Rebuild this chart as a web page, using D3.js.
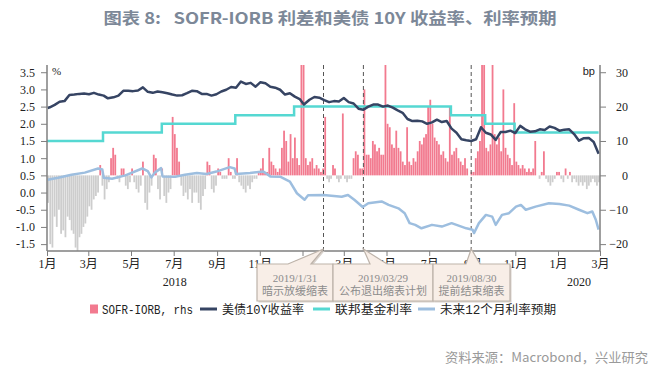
<!DOCTYPE html>
<html>
<head>
<meta charset="utf-8">
<script src="https://cdn.jsdelivr.net/npm/d3@7"></script>
<style>
  body { margin: 0; background: #fff; }
  svg { display: block; }
</style>
</head>
<body>
<svg id="chart" width="669" height="369"></svg>
<script>
// ---- data ----
// 美债10Y收益率 (%), weekly
const ust10y = [
  ["2018-01-02",2.46],["2018-01-05",2.48],["2018-01-12",2.55],["2018-01-19",2.64],["2018-01-26",2.66],
  ["2018-02-02",2.84],["2018-02-09",2.85],["2018-02-16",2.87],["2018-02-23",2.88],["2018-03-02",2.86],
  ["2018-03-09",2.90],["2018-03-16",2.85],["2018-03-23",2.82],["2018-03-29",2.74],["2018-04-06",2.77],
  ["2018-04-13",2.82],["2018-04-20",2.96],["2018-04-27",2.96],["2018-05-04",2.95],["2018-05-11",2.97],
  ["2018-05-18",3.06],["2018-05-25",2.93],["2018-06-01",2.90],["2018-06-08",2.94],["2018-06-15",2.92],
  ["2018-06-22",2.89],["2018-06-29",2.85],["2018-07-06",2.82],["2018-07-13",2.83],["2018-07-20",2.89],
  ["2018-07-27",2.96],["2018-08-03",2.95],["2018-08-10",2.87],["2018-08-17",2.87],["2018-08-24",2.82],
  ["2018-08-31",2.86],["2018-09-07",2.94],["2018-09-14",2.99],["2018-09-21",3.07],["2018-09-28",3.05],
  ["2018-10-05",3.23],["2018-10-12",3.16],["2018-10-19",3.19],["2018-10-26",3.08],["2018-11-02",3.21],
  ["2018-11-09",3.18],["2018-11-16",3.08],["2018-11-23",3.05],["2018-11-30",2.99],["2018-12-07",2.85],
  ["2018-12-14",2.89],["2018-12-21",2.79],["2018-12-28",2.72],["2019-01-03",2.56],["2019-01-11",2.70],
  ["2019-01-18",2.78],["2019-01-25",2.76],["2019-02-01",2.69],["2019-02-08",2.63],["2019-02-15",2.66],
  ["2019-02-22",2.65],["2019-03-01",2.75],["2019-03-08",2.63],["2019-03-15",2.59],["2019-03-22",2.44],
  ["2019-03-29",2.41],["2019-04-05",2.50],["2019-04-12",2.56],["2019-04-19",2.56],["2019-04-26",2.50],
  ["2019-05-03",2.53],["2019-05-10",2.47],["2019-05-17",2.39],["2019-05-24",2.32],["2019-05-31",2.14],
  ["2019-06-07",2.08],["2019-06-14",2.09],["2019-06-21",2.07],["2019-06-28",2.00],["2019-07-05",2.04],
  ["2019-07-12",2.12],["2019-07-19",2.05],["2019-07-26",2.08],["2019-08-02",1.86],["2019-08-09",1.74],
  ["2019-08-16",1.55],["2019-08-23",1.52],["2019-08-30",1.50],["2019-09-06",1.55],["2019-09-13",1.90],
  ["2019-09-20",1.74],["2019-09-27",1.69],["2019-10-04",1.53],["2019-10-11",1.76],["2019-10-18",1.76],
  ["2019-10-25",1.80],["2019-11-01",1.73],["2019-11-08",1.94],["2019-11-15",1.84],["2019-11-22",1.77],
  ["2019-11-29",1.78],["2019-12-06",1.84],["2019-12-13",1.82],["2019-12-20",1.92],["2019-12-27",1.88],
  ["2020-01-03",1.80],["2020-01-10",1.83],["2020-01-17",1.84],["2020-01-24",1.70],["2020-01-31",1.51],
  ["2020-02-07",1.58],["2020-02-14",1.59],["2020-02-21",1.47],["2020-02-28",1.13]
];

// 联邦基金利率 (%), step changes
const fedFunds = [
  ["2018-01-01",1.50],["2018-03-22",1.75],["2018-06-14",2.00],["2018-09-27",2.25],
  ["2018-12-20",2.50],["2019-08-01",2.25],["2019-09-19",2.00],["2019-10-31",1.75],["2020-02-28",1.75]
];

// 未来12个月利率预期 (%)
const rateExpect = [
  ["2018-01-02",0.37],["2018-01-17",0.43],["2018-02-05",0.52],["2018-02-24",0.58],["2018-03-15",0.70],
  ["2018-03-21",0.67],["2018-03-23",0.43],["2018-04-04",0.40],["2018-04-23",0.50],["2018-05-17",0.70],
  ["2018-05-25",0.62],["2018-05-30",0.44],["2018-06-04",0.58],["2018-06-13",0.71],["2018-06-15",0.47],
  ["2018-07-03",0.46],["2018-07-17",0.52],["2018-08-03",0.57],["2018-08-17",0.54],["2018-08-31",0.61],
  ["2018-09-19",0.74],["2018-09-26",0.70],["2018-09-28",0.54],["2018-10-18",0.57],["2018-11-06",0.61],
  ["2018-11-16",0.47],["2018-11-30",0.46],["2018-12-14",0.32],["2018-12-24",-0.02],["2019-01-04",-0.21],
  ["2019-01-09",-0.08],["2019-01-31",-0.07],["2019-02-26",-0.12],["2019-03-07",-0.07],["2019-03-16",-0.21],
  ["2019-03-28",-0.42],["2019-04-05",-0.31],["2019-04-24",-0.26],["2019-05-04",-0.36],["2019-05-18",-0.46],
  ["2019-05-27",-0.60],["2019-06-03",-0.89],["2019-06-11",-0.94],["2019-06-20",-1.04],["2019-07-05",-0.94],
  ["2019-07-19",-0.99],["2019-08-02",-0.89],["2019-08-16",-0.99],["2019-08-23",-1.04],["2019-09-01",-1.08],
  ["2019-09-03",-1.18],["2019-09-10",-0.89],["2019-09-20",-0.65],["2019-09-29",-0.70],["2019-10-04",-0.94],
  ["2019-10-13",-0.65],["2019-10-23",-0.60],["2019-11-02",-0.41],["2019-11-09",-0.36],["2019-11-16",-0.50],
  ["2019-11-30",-0.41],["2019-12-19",-0.31],["2020-01-03",-0.33],["2020-01-17",-0.38],["2020-01-31",-0.50],
  ["2020-02-12",-0.60],["2020-02-19",-0.55],["2020-02-24",-0.79],["2020-02-28",-1.08]
];

// SOFR-IORB (bp, rhs): one row per month, Jan 2018 .. Feb 2020, evenly spaced inside the month
const spreadBp = [
  [-8,-20,-21,-12,-15,-10,-17,-16,-18,-12],   // 2018-01
  [-13,-16,-17,-21,-22,-18,-17,-15,-14,-12],
  [-9,-10,-7,-6,-5,3,-3,-7,-4,-2],
  [5,8,6,-1,-2,2,2,-3,-4,-2],
  [2,-2,-4,-5,-3,4,-8,-10,-5,-3],
  [6,5,-4,-7,2,-6,-8,-5,-4,17],
  [12,8,4,-3,-6,-5,-7,-4,-8,-5],
  [-5,-8,-10,-6,-4,4,3,-4,-5,-3],
  [2,1,-1,-1,-1,5,1,-1,-1,5],
  [-2,-3,-4,-5,-3,-4,-2,-1,-1,1],
  [2,5,1,1,8,4,3,2,1,2],
  [8,13,10,4,12,5,11,5,3,40],                // 2018-12
  [35,5,3,4,5,2,3,2,1,2],                    // 2019-01
  [17,-1,-2,-1,3,2,-1,-2,-1,18],
  [-1,-2,-1,-1,5,7,6,2,2,25],
  [6,6,5,10,9,7,8,6,6,40],
  [15,14,9,8,13,8,7,4,3,14],
  [4,3,5,4,7,10,9,11,12,20],
  [22,15,11,10,9,6,7,5,4,20],
  [6,7,8,5,4,3,5,2,0,1],
  [1,5,7,10,45,40,8,7,9,45],
  [12,9,11,7,25,8,6,5,3,21],
  [4,3,2,3,2,1,2,1,2,10],
  [0,-1,1,7,-1,-2,-3,-2,-1,1],               // 2019-12
  [1,-1,-2,2,-1,1,-2,-1,-2,-3],              // 2020-01
  [-2,-3,-2,-4,-3,-2,-1,-2,-3,-2]            // 2020-02
];

const leftTicks = [3.5, 3.0, 2.5, 2.0, 1.5, 1.0, 0.5, 0.0, -0.5, -1.0, -1.5];
const rightTicks = [30, 20, 10, 0, -10, -20];
// the 2019 label sits behind the callouts in the original, so only 2018 and 2020 show
const yearLabels = [["2018","2018-01-01","2019-01-01"],["2020","2020-01-01","2020-03-01"]];

const events = [
  {date: "2019-01-31", l1: "2019/1/31",  l2: "暗示放缓缩表",   box: [257, 333], wedge: [288, 311]},
  {date: "2019-03-29", l1: "2019/03/29", l2: "公布退出缩表计划", box: [333, 433], wedge: [370, 387]},
  {date: "2019-08-30", l1: "2019/08/30", l2: "提前结束缩表",   box: [433, 510], wedge: [466, 480]}
];

const legendItems = [
  {label: "SOFR-IORB, rhs", type: "rect", color: "#f27a8f", x: 90,  w: 91},
  {label: "美债10Y收益率",  type: "line", color: "#364463", x: 200, w: 82},
  {label: "联邦基金利率",   type: "line", color: "#55d8d2", x: 313, w: 77},
  {label: "未来12个月利率预期", type: "line", color: "#9dbedf", x: 418, w: 116}
];

// ---- chart ----
const svg = d3.select("#chart");
const parse = d3.timeParse("%Y-%m-%d");

const plotL = 47, plotR = 600, plotT = 65, plotB = 251;

const x = d3.scaleTime()
  .domain([new Date(2018, 0, 1), new Date(2020, 2, 1)])
  .range([plotL, plotR]);
const yL = d3.scaleLinear().domain([-1.7, 3.71]).range([plotB, plotT]);
const yR = d3.scaleLinear().domain([-22, 32.1]).range([plotB, plotT]);

svg.append("defs").append("clipPath").attr("id", "plot")
  .append("rect").attr("x", plotL).attr("y", plotT)
  .attr("width", plotR - plotL).attr("height", plotB - plotT);

// title
svg.append("text")
  .attr("x", 330).attr("y", 24)
  .attr("text-anchor", "middle")
  .attr("textLength", 453).attr("lengthAdjust", "spacingAndGlyphs")
  .style("font-family", "'Noto Sans CJK SC', 'Noto Sans', sans-serif")
  .style("font-size", "16px").style("font-weight", "bold")
  .style("fill", "#7c8898")
  .text("图表 8:\u00a0\u00a0 SOFR-IORB 利差和美债 10Y 收益率、利率预期");

const plot = svg.append("g").attr("clip-path", "url(#plot)");

// bars
const bars = [];
spreadBp.forEach((row, i) => {
  const m0 = new Date(2018, i, 1), m1 = new Date(2018, i + 1, 1);
  row.forEach((v, j) => {
    const t = new Date(+m0 + (m1 - m0) * (j + 0.5) / row.length);
    bars.push({t, v});
  });
});

plot.selectAll("rect.bar")
  .data(bars)
  .enter().append("rect")
  .attr("class", "bar")
  .attr("x", d => x(d.t) - 0.9)
  .attr("width", 1.8)
  .attr("y", d => Math.min(yR(d.v), yR(0)))
  .attr("height", d => Math.abs(yR(d.v) - yR(0)))
  .attr("fill", d => d.v >= 0 ? "#f27a8f" : "#cdcdcd");

// event dashed lines
plot.selectAll("line.evt")
  .data(events)
  .enter().append("line")
  .attr("x1", d => x(parse(d.date))).attr("x2", d => x(parse(d.date)))
  .attr("y1", plotT).attr("y2", plotB)
  .attr("stroke", "#555").attr("stroke-width", 1)
  .attr("stroke-dasharray", "4,3");

const line = d3.line()
  .x(d => x(parse(d[0])))
  .y(d => yL(d[1]));

plot.append("path").datum(rateExpect)
  .attr("d", line)
  .attr("fill", "none").attr("stroke", "#9dbedf").attr("stroke-width", 2.5)
  .attr("stroke-linejoin", "round");

plot.append("path").datum(fedFunds)
  .attr("d", line.curve(d3.curveStepAfter))
  .attr("fill", "none").attr("stroke", "#55d8d2").attr("stroke-width", 2.5);
line.curve(d3.curveLinear);

plot.append("path").datum(ust10y)
  .attr("d", line)
  .attr("fill", "none").attr("stroke", "#364463").attr("stroke-width", 2.5)
  .attr("stroke-linejoin", "round");

// axes
const axisColor = "#7f7f7f";
const tickFont = "'Liberation Serif', 'Noto Sans CJK SC', serif";

function styleAxis(g) {
  g.select(".domain").attr("stroke", axisColor).attr("stroke-width", 1.5);
  g.selectAll(".tick line").attr("stroke", axisColor).attr("stroke-width", 1);
  g.selectAll(".tick text")
    .style("font-family", tickFont).style("font-size", "12px").attr("fill", "#222");
}

svg.append("g")
  .attr("transform", `translate(${plotL},0)`)
  .call(d3.axisLeft(yL).tickValues(leftTicks).tickFormat(d => d.toFixed(1))
    .tickSize(6).tickSizeOuter(0).tickPadding(6))
  .call(styleAxis)
  .call(g => g.select(".domain").attr("d", `M0,${plotB}V${plotT}`));

svg.append("g")
  .attr("transform", `translate(${plotR},0)`)
  .call(d3.axisRight(yR).tickValues(rightTicks).tickSize(6).tickSizeOuter(0))
  .call(styleAxis)
  .call(g => g.select(".domain").attr("d", `M0,${plotB}V${plotT}`))
  .call(g => g.selectAll(".tick text").attr("x", 28).attr("text-anchor", "end"));

const monthTicks = d3.timeMonth.every(2).range(new Date(2018, 0, 1), new Date(2020, 2, 2));
svg.append("g")
  .attr("transform", `translate(0,${plotB})`)
  .call(d3.axisBottom(x).tickValues(monthTicks)
    .tickFormat(d => (d.getMonth() + 1) + "月").tickSize(5).tickSizeOuter(0).tickPadding(3))
  .call(styleAxis)
  .call(g => g.select(".domain").attr("d", `M${plotL},0H${plotR}`));

svg.selectAll("text.year")
  .data(yearLabels)
  .enter().append("text")
  .attr("class", "year")
  .attr("x", d => (x(parse(d[1])) + x(parse(d[2]))) / 2)
  .attr("y", 286)
  .attr("text-anchor", "middle")
  .style("font-family", tickFont).style("font-size", "12px").attr("fill", "#222")
  .text(d => d[0]);

// unit labels
svg.append("text").attr("x", 52).attr("y", 75)
  .style("font-family", tickFont).style("font-size", "11px").attr("fill", "#222").text("%");
svg.append("text").attr("x", 595).attr("y", 75).attr("text-anchor", "end")
  .style("font-family", "'Liberation Sans', sans-serif").style("font-size", "11px").attr("fill", "#222").text("bp");

// annotation callouts
const notes = svg.selectAll("g.note")
  .data(events)
  .enter().append("g").attr("class", "note");

function callout(d, dx, dy) {
  const tx = x(parse(d.date)), y0 = 264, y1 = 301;
  return `M${d.box[0] + dx},${y0 + dy}H${d.wedge[0] + dx}L${tx + dx},${249 + dy}L${d.wedge[1] + dx},${y0 + dy}` +
         `H${d.box[1] + dx}V${y1 + dy}H${d.box[0] + dx}Z`;
}
notes.append("path")
  .attr("d", d => callout(d, 1.5, 1.5))
  .attr("fill", "#d9d2cc");
notes.append("path")
  .attr("d", d => callout(d, 0, 0))
  .attr("fill", "#f8eee7").attr("stroke", "#bdb3aa").attr("stroke-width", 1.2);

// two lines of one note kept in a single text element
const noteText = notes.append("text")
  .attr("text-anchor", "middle")
  .attr("fill", "#8c8c8c");
noteText.append("tspan")
  .attr("x", d => (d.box[0] + d.box[1]) / 2).attr("y", 282)
  .style("font-family", "'Liberation Serif', 'Noto Sans CJK SC', serif").style("font-size", "11px")
  .text(d => d.l1);
noteText.append("tspan")
  .attr("x", d => (d.box[0] + d.box[1]) / 2).attr("y", 294.5)
  .style("font-family", "'Noto Sans CJK SC', sans-serif").style("font-size", "11px")
  .text(d => d.l2);

// legend
const legend = svg.append("g");
legendItems.forEach(it => {
  if (it.type === "rect") {
    legend.append("rect").attr("x", it.x).attr("y", 304.5).attr("width", 8).attr("height", 9).attr("fill", it.color);
  } else {
    legend.append("line").attr("x1", it.x).attr("x2", it.x + 17).attr("y1", 309).attr("y2", 309)
      .attr("stroke", it.color).attr("stroke-width", 3);
  }
  const tx = it.type === "rect" ? it.x + 12 : it.x + 22;
  legend.append("text")
    .attr("x", tx).attr("y", 313.5)
    .attr("textLength", it.w).attr("lengthAdjust", "spacingAndGlyphs")
    .style("font-family", "'Liberation Mono', 'Noto Sans CJK SC', monospace").style("font-size", "12px")
    .attr("fill", "#222")
    .text(it.label);
});

// source
svg.append("text")
  .attr("x", 648).attr("y", 362).attr("text-anchor", "end")
  .attr("textLength", 203).attr("lengthAdjust", "spacingAndGlyphs")
  .style("font-family", "'Noto Sans CJK SC', sans-serif").style("font-size", "13px")
  .attr("fill", "#9a9a9a")
  .text("资料来源：Macrobond，兴业研究");
</script>
</body>
</html>
